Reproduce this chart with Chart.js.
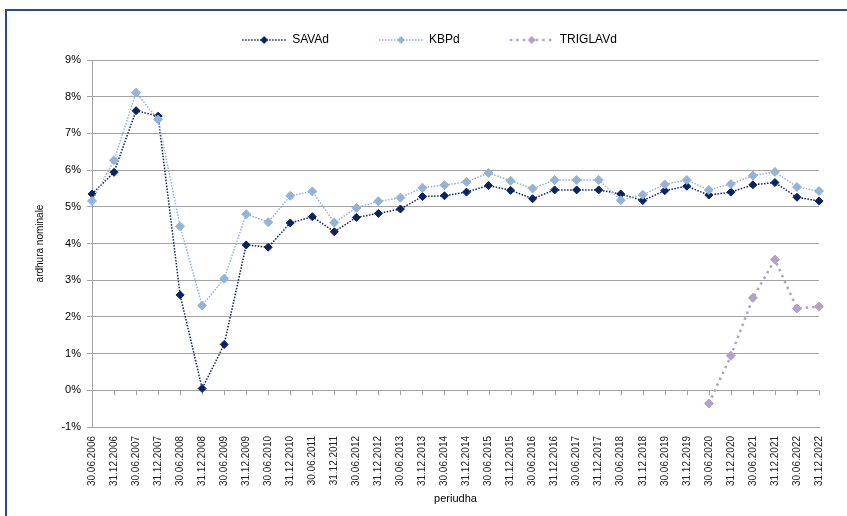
<!DOCTYPE html>
<html>
<head>
<meta charset="utf-8">
<script src="https://cdn.jsdelivr.net/npm/chart.js@4.4.1/dist/chart.umd.min.js"></script>
<style>
  body { margin: 0; overflow: hidden; background: #fff; }
  #wrap { position: relative; width: 847px; height: 516px; }
  #frame {
    position: absolute; left: 5px; top: 9px; width: 900px; height: 600px;
    border-left: 2px solid #2c4a86; border-top: 2px solid #2c4a86;
    pointer-events: none;
  }
</style>
</head>
<body>
<div id="wrap">
  <canvas id="myChart" width="847" height="516"></canvas>
  <div id="frame"></div>
</div>
<script>
// Half-year reporting dates
const periods = [
  '30.06.2006', '31.12.2006', '30.06.2007', '31.12.2007', '30.06.2008', '31.12.2008',
  '30.06.2009', '31.12.2009', '30.06.2010', '31.12.2010', '30.06.2011', '31.12.2011',
  '30.06.2012', '31.12.2012', '30.06.2013', '31.12.2013', '30.06.2014', '31.12.2014',
  '30.06.2015', '31.12.2015', '30.06.2016', '31.12.2016', '30.06.2017', '31.12.2017',
  '30.06.2018', '31.12.2018', '30.06.2019', '31.12.2019', '30.06.2020', '31.12.2020',
  '30.06.2021', '31.12.2021', '30.06.2022', '31.12.2022'
];

// Nominal yields in %
const savaValues = [
  5.35, 5.94, 7.62, 7.47, 2.60, 0.05, 1.25, 3.96, 3.90, 4.56, 4.73, 4.32,
  4.71, 4.82, 4.94, 5.28, 5.30, 5.40, 5.58, 5.45, 5.22, 5.46, 5.46, 5.46,
  5.35, 5.17, 5.44, 5.56, 5.32, 5.40, 5.60, 5.66, 5.26, 5.16
];
const kbpValues = [
  5.16, 6.27, 8.11, 7.38, 4.47, 2.31, 3.04, 4.80, 4.58, 5.30, 5.42, 4.57,
  4.97, 5.15, 5.25, 5.52, 5.59, 5.68, 5.92, 5.71, 5.50, 5.73, 5.73, 5.73,
  5.18, 5.33, 5.61, 5.73, 5.46, 5.62, 5.85, 5.95, 5.54, 5.43
];
const triglavValues = [
  null, null, null, null, null, null, null, null, null, null, null, null,
  null, null, null, null, null, null, null, null, null, null, null, null,
  null, null, null, null, -0.36, 0.94, 2.52, 3.56, 2.23, 2.28
];

const yTicks = [-1, 0, 1, 2, 3, 4, 5, 6, 7, 8, 9];

const seriesNames = ['SAVAd', 'KBPd', 'TRIGLAVd'];
const seriesColors = ['#0b2262', '#95b3d7', '#b3a2c7'];

const FONT = "'Liberation Sans', Arial, sans-serif";
const GRID = '#a3a3a3';

// Builds a small legend icon: dotted line with a diamond in the middle
function makeLegendIcon(color, lineWidth, dash, radius) {
  const c = document.createElement('canvas');
  c.width = 84;
  c.height = 12;
  const ctx = c.getContext('2d');
  const x0 = 40, x1 = 84, y = 6;
  ctx.strokeStyle = color;
  ctx.lineWidth = lineWidth;
  ctx.setLineDash(dash);
  ctx.beginPath();
  ctx.moveTo(x0, y);
  ctx.lineTo(x1, y);
  ctx.stroke();
  const cx = (x0 + x1) / 2;
  ctx.fillStyle = color;
  ctx.beginPath();
  ctx.moveTo(cx - radius, y);
  ctx.lineTo(cx, y - radius);
  ctx.lineTo(cx + radius, y);
  ctx.lineTo(cx, y + radius);
  ctx.closePath();
  ctx.fill();
  return c;
}

const legendIcons = [
  makeLegendIcon(seriesColors[0], 1.5, [1.5, 1.5], 4),
  makeLegendIcon(seriesColors[1], 1.5, [1.5, 1.5], 4),
  makeLegendIcon(seriesColors[2], 2.5, [2.5, 4], 4)
];

// Little tick marks where the category axis crosses 0%
const zeroTicks = {
  id: 'zeroTicks',
  beforeDatasetsDraw(chart) {
    const { ctx, scales: { x, y } } = chart;
    const y0 = y.getPixelForValue(0);
    ctx.save();
    ctx.strokeStyle = GRID;
    ctx.lineWidth = 1;
    ctx.beginPath();
    for (let i = 0; i < periods.length; i++) {
      const px = Math.round(x.getPixelForValue(i)) + 0.5;
      ctx.moveTo(px, y0);
      ctx.lineTo(px, y0 + 5);
    }
    ctx.stroke();
    ctx.restore();
  }
};

// Give the legend a bit more room under it
const legendSpace = {
  id: 'legendSpace',
  beforeInit(chart) {
    const originalFit = chart.legend.fit;
    chart.legend.fit = function fit() {
      originalFit.bind(chart.legend)();
      this.height += 4;
    };
  }
};

const ctx = document.getElementById('myChart').getContext('2d');

new Chart(ctx, {
  type: 'line',
  data: {
    labels: periods,
    datasets: [{
      label: seriesNames[0],
      data: savaValues,
      borderColor: seriesColors[0],
      backgroundColor: seriesColors[0],
      borderWidth: 1.5,
      borderDash: [1.5, 1.5],
      pointStyle: 'rectRot',
      pointRadius: 4,
      pointBorderWidth: 1,
      tension: 0,
      order: 3
    }, {
      label: seriesNames[1],
      data: kbpValues,
      borderColor: seriesColors[1],
      backgroundColor: seriesColors[1],
      borderWidth: 1.5,
      borderDash: [1.5, 1.5],
      pointStyle: 'rectRot',
      pointRadius: 4.5,
      pointBorderWidth: 1,
      tension: 0,
      order: 2
    }, {
      label: seriesNames[2],
      data: triglavValues,
      borderColor: seriesColors[2],
      backgroundColor: seriesColors[2],
      borderWidth: 2.5,
      borderDash: [2.5, 4],
      pointStyle: 'rectRot',
      pointRadius: 4.5,
      pointBorderWidth: 1,
      tension: 0,
      order: 1
    }]
  },
  options: {
    responsive: false,
    animation: false,
    layout: {
      padding: { top: 24, right: 28, bottom: 0, left: 0 }
    },
    plugins: {
      tooltip: { enabled: false },
      legend: {
        position: 'top',
        labels: {
          usePointStyle: true,
          pointStyleWidth: 84,
          padding: 10,
          color: '#000',
          font: { family: FONT, size: 12 },
          generateLabels(chart) {
            const items = Chart.defaults.plugins.legend.labels.generateLabels(chart);
            items.sort((a, b) => a.datasetIndex - b.datasetIndex);
            items.forEach((item) => { item.pointStyle = legendIcons[item.datasetIndex]; });
            return items;
          }
        }
      }
    },
    scales: {
      x: {
        offset: false,
        grid: { display: false },
        border: { display: true, color: GRID, width: 1 },
        ticks: {
          autoSkip: false,
          minRotation: 90,
          maxRotation: 90,
          padding: 1,
          color: '#222',
          font: { family: FONT, size: 10 }
        },
        title: {
          display: true,
          text: 'periudha',
          color: '#000',
          font: { family: FONT, size: 11 },
          padding: { top: 4, bottom: 10 }
        },
        afterFit(scale) {
          scale.height = 89;
        }
      },
      y: {
        min: yTicks[0],
        max: yTicks[yTicks.length - 1],
        afterBuildTicks(scale) {
          scale.ticks = yTicks.map((v) => ({ value: v }));
        },
        grid: {
          color: GRID,
          lineWidth: 1,
          tickLength: 5
        },
        border: { display: true, color: GRID, width: 1 },
        ticks: {
          padding: 6,
          color: '#000',
          font: { family: FONT, size: 11 },
          callback: (v) => v + '%'
        },
        title: {
          display: true,
          text: 'ardhura nominale',
          color: '#000',
          font: { family: FONT, size: 10 },
          padding: { top: 34, bottom: 0 }
        },
        afterFit(scale) {
          scale.width = 92;
        }
      }
    }
  },
  plugins: [zeroTicks, legendSpace]
});
</script>
</body>
</html>
